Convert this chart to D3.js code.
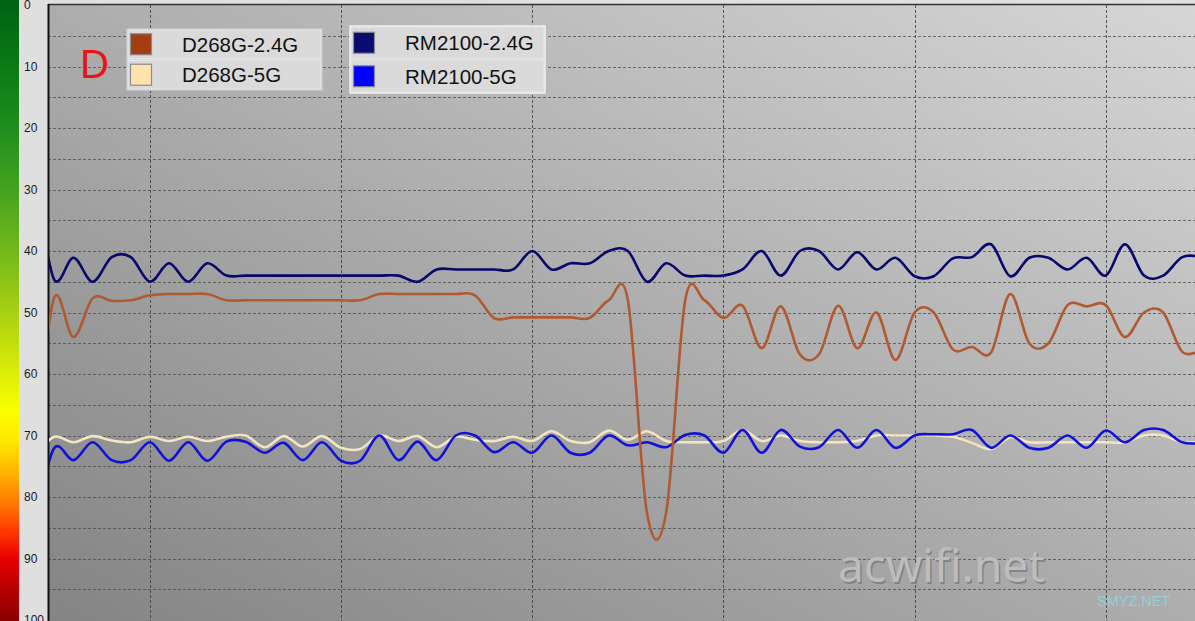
<!DOCTYPE html>
<html><head><meta charset="utf-8">
<script src="https://cdn.jsdelivr.net/npm/d3@7"></script>
<style>html,body{margin:0;padding:0;background:#e0e0e0;overflow:hidden}svg{display:block}</style>
</head><body><svg id="c" width="1195" height="621"></svg>
<script>
// ---- data ----
const sampleIdx = d3.range(3, 66); // sample index (time); samples 3-4 lie just left of the visible window
const seriesNames = ["D268G-2.4G", "D268G-5G", "RM2100-2.4G", "RM2100-5G"];
const seriesColors = ["#b05a32", "#f3e5c2", "#07076c", "#1212d6"];
const swatchColors = ["#a33d12", "#ffe2ae", "#0b0b70", "#0000ff"];
const d268g24 = [60, 67, 47.5, 54, 47.7, 48.1, 48, 47.2, 47, 47, 47, 48, 48, 48, 48, 48, 48, 48, 48, 47, 47, 47, 47, 47, 47.2,
  50.9, 50.8, 50.8, 50.8, 50.8, 50.9, 48, 48, 82.6, 82.6, 48, 48, 50.9, 48.9, 55.8, 49, 56.8, 56.8, 48.9, 55.8, 50, 57.7,
  50, 50, 56, 55.6, 56.5, 47, 55, 55, 48.8, 49, 48.8, 54, 50, 50, 56.4, 56];
const d268g5 = [71, 72.6, 70.2, 71.1, 70.1, 70.8, 71.1, 70.2, 70.9, 70.2, 70.9, 70.2, 70, 71.9, 70.1, 71.8, 70.1, 72, 72.2, 70, 70.9,
  70.1, 71.9, 70.2, 70.7, 70.9, 70.2, 70.9, 69.3, 70.9, 71.1, 69.2, 70.7, 69.3, 70.9, 71.1, 71.1, 70.9, 69.1, 70.9, 70, 70.9,
  71.1, 71.1, 70.9, 70, 70, 70, 70, 70.2, 71.2, 72.2, 70.3, 71.1, 71.1, 71.1, 71.1, 71.1, 71.1, 70, 70, 71.1, 71];
const rm24 = [40, 32, 44.7, 41.1, 45, 41, 41, 45, 42, 45, 42, 44, 44, 44, 44, 44, 44, 44, 44, 44, 44, 45, 43, 43, 43, 43, 43,
  40, 43, 42, 42, 40, 40, 45, 42, 44, 44, 44, 43, 40, 44, 40, 40, 43, 40.2, 43, 41.1, 44.1, 44.1, 41.2, 41, 38.9, 44.1,
  41.1, 41.1, 43, 41.1, 44, 38.9, 44, 44, 41, 41];
const rm5 = [78, 81.5, 72, 74, 71.1, 74, 74, 71.1, 74.1, 71.1, 74.1, 71, 71, 72.8, 71.2, 74, 71.1, 74.1, 74.1, 70, 74, 71,
  74, 70, 70, 72.7, 71.1, 72.8, 70, 72.8, 72.8, 70, 71.6, 71.1, 71.9, 69.9, 70, 72.8, 69.1, 72.8, 69.1, 71.8, 71.9, 69.1, 72,
  69.1, 72, 70, 69.8, 69.8, 69.1, 72, 70, 72, 72, 70, 72, 69.2, 71.1, 69.1, 69.1, 71.1, 71.2];
const yTicks = [0, 10, 20, 30, 40, 50, 60, 70, 80, 90, 100];
const yGrid = d3.range(5, 100, 5);
const xGrid = [10, 20, 30, 40, 50, 60];
const barStops = [[0, "#006414"], [10, "#0b7a14"], [20, "#1f8e1e"], [30, "#45a220"], [40, "#72b81a"], [50, "#a8d012"],
  [60, "#dcee06"], [66, "#fbff00"], [71, "#ffe800"], [76, "#ffb400"], [81, "#ff7a00"], [86, "#ff3200"], [90, "#e80000"], [100, "#880000"]];

// ---- drawing ----
const W = 1195, H = 621;
const svg = d3.select("#c");
const defs = svg.append("defs");
const x = d3.scaleLinear().domain([4.667, 64.667]).range([48, 1195]);
const y = d3.scaleLinear().domain([0, 100]).range([5, 620]);

// left gray strip
svg.append("rect").attr("x", 0).attr("y", 0).attr("width", 48).attr("height", H).attr("fill", "#dfdfdf");

// color bar gradient
const cg = defs.append("linearGradient").attr("id", "cbar").attr("gradientUnits", "userSpaceOnUse")
  .attr("x1", 0).attr("x2", 0).attr("y1", y(0)).attr("y2", y(100));
cg.selectAll("stop").data(barStops).join("stop")
  .attr("offset", d => d[0] / 100).attr("stop-color", d => d[1]);
svg.append("rect").attr("x", 0).attr("y", 0).attr("width", 19).attr("height", H).attr("fill", "url(#cbar)");

// plot background
const bg = defs.append("linearGradient").attr("id", "bg").attr("x1", 0).attr("y1", 1).attr("x2", 1).attr("y2", 0);
bg.append("stop").attr("offset", 0).attr("stop-color", "#848484");
bg.append("stop").attr("offset", 1).attr("stop-color", "#d6d6d6");
svg.append("rect").attr("x", 48).attr("y", y(0)).attr("width", W - 48).attr("height", H - y(0)).attr("fill", "url(#bg)");

defs.append("clipPath").attr("id", "plot").append("rect")
  .attr("x", 49).attr("y", y(0)).attr("width", W - 49).attr("height", H - y(0));

// grid
const g = svg.append("g").attr("clip-path", "url(#plot)");
g.selectAll("line.h").data(yGrid).join("line").attr("class", "h")
  .attr("x1", 48).attr("x2", W).attr("y1", d => Math.round(y(d)) + 0.5).attr("y2", d => Math.round(y(d)) + 0.5)
  .attr("stroke", "#4a4a4a").attr("stroke-width", 1).attr("stroke-dasharray", "3,2").attr("opacity", 0.75);
g.selectAll("line.v").data(xGrid).join("line").attr("class", "v")
  .attr("y1", y(0)).attr("y2", H).attr("x1", d => Math.round(x(d)) + 0.5).attr("x2", d => Math.round(x(d)) + 0.5)
  .attr("stroke", "#3a3a3a").attr("stroke-width", 1).attr("stroke-dasharray", "3,2").attr("opacity", 0.8);

// borders
svg.append("line").attr("x1", 48).attr("x2", W).attr("y1", y(0) - 0.5).attr("y2", y(0) - 0.5).attr("stroke", "#333").attr("stroke-width", 1.5);
svg.append("line").attr("x1", 48.5).attr("x2", 48.5).attr("y1", y(0) - 1).attr("y2", H).attr("stroke", "#111").attr("stroke-width", 2);

// y-axis labels
svg.append("g").selectAll("text").data(yTicks).join("text")
  .attr("x", 24).attr("y", d => y(d)).attr("dy", "0.35em")
  .attr("font-family", "Liberation Sans, Arial, sans-serif").attr("font-size", 12).attr("fill", "#1a1a1a")
  .text(d => d);

// watermark
const wm = svg.append("g");
wm.append("text").attr("x", 839.5).attr("y", 583.5).attr("font-family", "Noto Sans, sans-serif").attr("font-size", 46)
  .attr("fill", "#6e6e6e").attr("opacity", 0.6).text("acwifi.net");
wm.append("text").attr("x", 838).attr("y", 582).attr("font-family", "Noto Sans, sans-serif").attr("font-size", 46)
  .attr("fill", "#bdbdbd").text("acwifi.net");
svg.append("text").attr("x", 1097).attr("y", 606).attr("font-family", "Liberation Sans, Arial, sans-serif").attr("font-size", 14.5)
  .attr("fill", "#8ed4de").attr("opacity", 0.9).text("SMYZ.NET");

// lines (uniform Catmull-Rom spline)
const line = d3.line().x((d, i) => x(sampleIdx[i])).y(d => y(d)).curve(d3.curveCatmullRom.alpha(0));
const drawOrder = [[d268g5, 1], [rm5, 3], [rm24, 2], [d268g24, 0]];
const lg = svg.append("g").attr("clip-path", "url(#plot)");
drawOrder.forEach(([vals, k]) => {
  lg.append("path").attr("d", line(vals)).attr("fill", "none").attr("stroke", seriesColors[k])
    .attr("stroke-width", 2.6).attr("stroke-linejoin", "round");
});

// "D" label
svg.append("text").attr("x", 80).attr("y", 78).attr("font-family", "Liberation Sans, Arial, sans-serif")
  .attr("font-size", 40).attr("fill", "#e81414").text("D");

// legends
const legends = [
  { x: 127, y: 29, w: 195, rh: 30.5, items: [0, 1], tx: 182, outline: "#c8c8c8" },
  { x: 350, y: 26, w: 195, rh: 33.5, items: [2, 3], tx: 405, outline: "#f2f2f2" }
];
legends.forEach(L => {
  const lgG = svg.append("g");
  lgG.append("rect").attr("x", L.x).attr("y", L.y).attr("width", L.w).attr("height", L.rh * 2)
    .attr("fill", "#dcdcdc").attr("stroke", L.outline).attr("stroke-width", 1.5);
  L.items.forEach((k, r) => {
    const ry = L.y + r * L.rh;
    lgG.append("rect").attr("x", L.x + 1).attr("y", ry + 1).attr("width", L.w - 2).attr("height", L.rh - 2)
      .attr("fill", "#dadada").attr("stroke", "#e6e6e6").attr("stroke-width", 1);
    lgG.append("rect").attr("x", L.x + 3.5).attr("y", ry + L.rh / 2 - 10.5).attr("width", 21).attr("height", 21)
      .attr("fill", swatchColors[k]).attr("stroke", "#8c8c8c").attr("stroke-width", 1.2);
    lgG.append("text").attr("x", L.tx).attr("y", ry + L.rh / 2 + 7.5)
      .attr("font-family", "Liberation Sans, Arial, sans-serif").attr("font-size", 20.5).attr("fill", "#111")
      .text(seriesNames[k]);
  });
});
</script></body></html>
